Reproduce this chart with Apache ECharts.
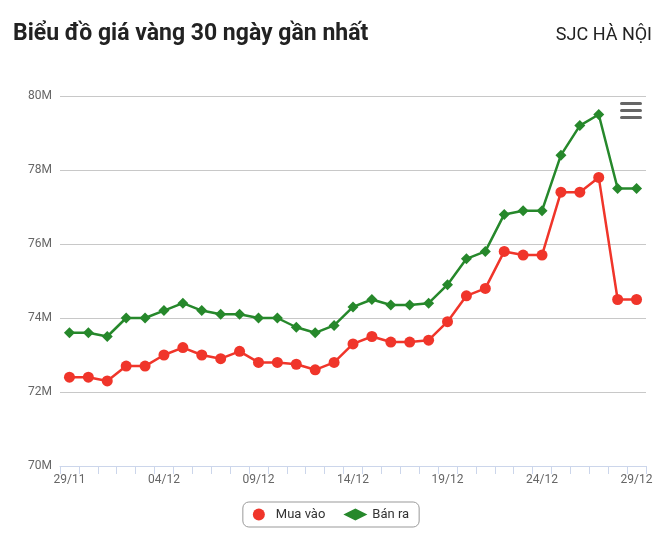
<!DOCTYPE html>
<html>
<head>
<meta charset="utf-8">
<script src="https://cdn.jsdelivr.net/npm/echarts@6/dist/echarts.min.js"></script>
<style>
  html, body { margin: 0; padding: 0; background: #fff; }
  #chart-container { width: 662px; height: 557px; }
</style>
</head>
<body>
<div id="chart-container"></div>
<script>
// ngày (29/11 -> 29/12)
const days = ['29/11','30/11','01/12','02/12','03/12','04/12','05/12','06/12','07/12','08/12',
    '09/12','10/12','11/12','12/12','13/12','14/12','15/12','16/12','17/12','18/12',
    '19/12','20/12','21/12','22/12','23/12','24/12','25/12','26/12','27/12','28/12','29/12'];
// giá (triệu đồng)
const muaVao = [72.4,72.4,72.3,72.7,72.7,73.0,73.2,73.0,72.9,73.1,72.8,72.8,72.75,72.6,72.8,73.3,
    73.5,73.35,73.35,73.4,73.9,74.6,74.8,75.8,75.7,75.7,77.4,77.4,77.8,74.5,74.5];
const banRa = [73.6,73.6,73.5,74.0,74.0,74.2,74.4,74.2,74.1,74.1,74.0,74.0,73.75,73.6,73.8,74.3,
    74.5,74.35,74.35,74.4,74.9,75.6,75.8,76.8,76.9,76.9,78.4,79.2,79.5,77.5,77.5];

const chart = echarts.init(document.getElementById('chart-container'));
const font = 'Roboto, "Noto Sans", sans-serif';

chart.setOption({
    animation: false,
    textStyle: { fontFamily: font },
    title: [
        { text: 'Biểu đồ giá vàng 30 ngày gần nhất', left: 8, top: 18,
          textStyle: { fontSize: 23, fontWeight: 'bold', color: '#222', fontFamily: font } },
        { text: 'SJC HÀ NỘI', right: 5, top: 21,
          textStyle: { fontSize: 18, fontWeight: 'normal', color: '#222', fontFamily: font } }
    ],
    graphic: [
        { type: 'rect', right: 20, top: 102, shape: { width: 22, height: 3, r: 1.5 }, style: { fill: '#666' } },
        { type: 'rect', right: 20, top: 109, shape: { width: 22, height: 3, r: 1.5 }, style: { fill: '#666' } },
        { type: 'rect', right: 20, top: 116, shape: { width: 22, height: 3, r: 1.5 }, style: { fill: '#666' } }
    ],
    legend: {
        bottom: 30, left: 'center',
        borderColor: '#999', borderWidth: 1, borderRadius: 6, padding: [6, 10],
        itemWidth: 24, itemHeight: 12, itemGap: 18,
        textStyle: { fontSize: 13, color: '#333' },
        data: [{ name: 'Mua vào', icon: 'circle' }, { name: 'Bán ra', icon: 'diamond' }]
    },
    grid: { left: 60, right: 16, top: 96, bottom: 91, containLabel: false },
    xAxis: {
        type: 'category', data: days, boundaryGap: true,
        axisLine: { lineStyle: { color: '#ccd6eb' } },
        axisTick: { show: true, interval: 0, lineStyle: { color: '#ccd6eb' }, length: 8 },
        axisLabel: { interval: 4, color: '#666', fontSize: 12 },
        splitLine: { show: false }
    },
    yAxis: {
        type: 'value', min: 70, max: 80, interval: 2,
        axisLabel: { formatter: v => v + 'M', color: '#666', fontSize: 12 },
        splitLine: { lineStyle: { color: '#c8c8c8' } },
        axisLine: { show: false }, axisTick: { show: false }
    },
    series: [
        { name: 'Mua vào', type: 'line', data: muaVao, symbol: 'circle', symbolSize: 11,
          color: '#f0352a', lineStyle: { width: 2.5 } },
        { name: 'Bán ra', type: 'line', data: banRa, symbol: 'diamond', symbolSize: 11,
          color: '#26882b', lineStyle: { width: 2.5 } }
    ]
});
</script>
</body>
</html>
